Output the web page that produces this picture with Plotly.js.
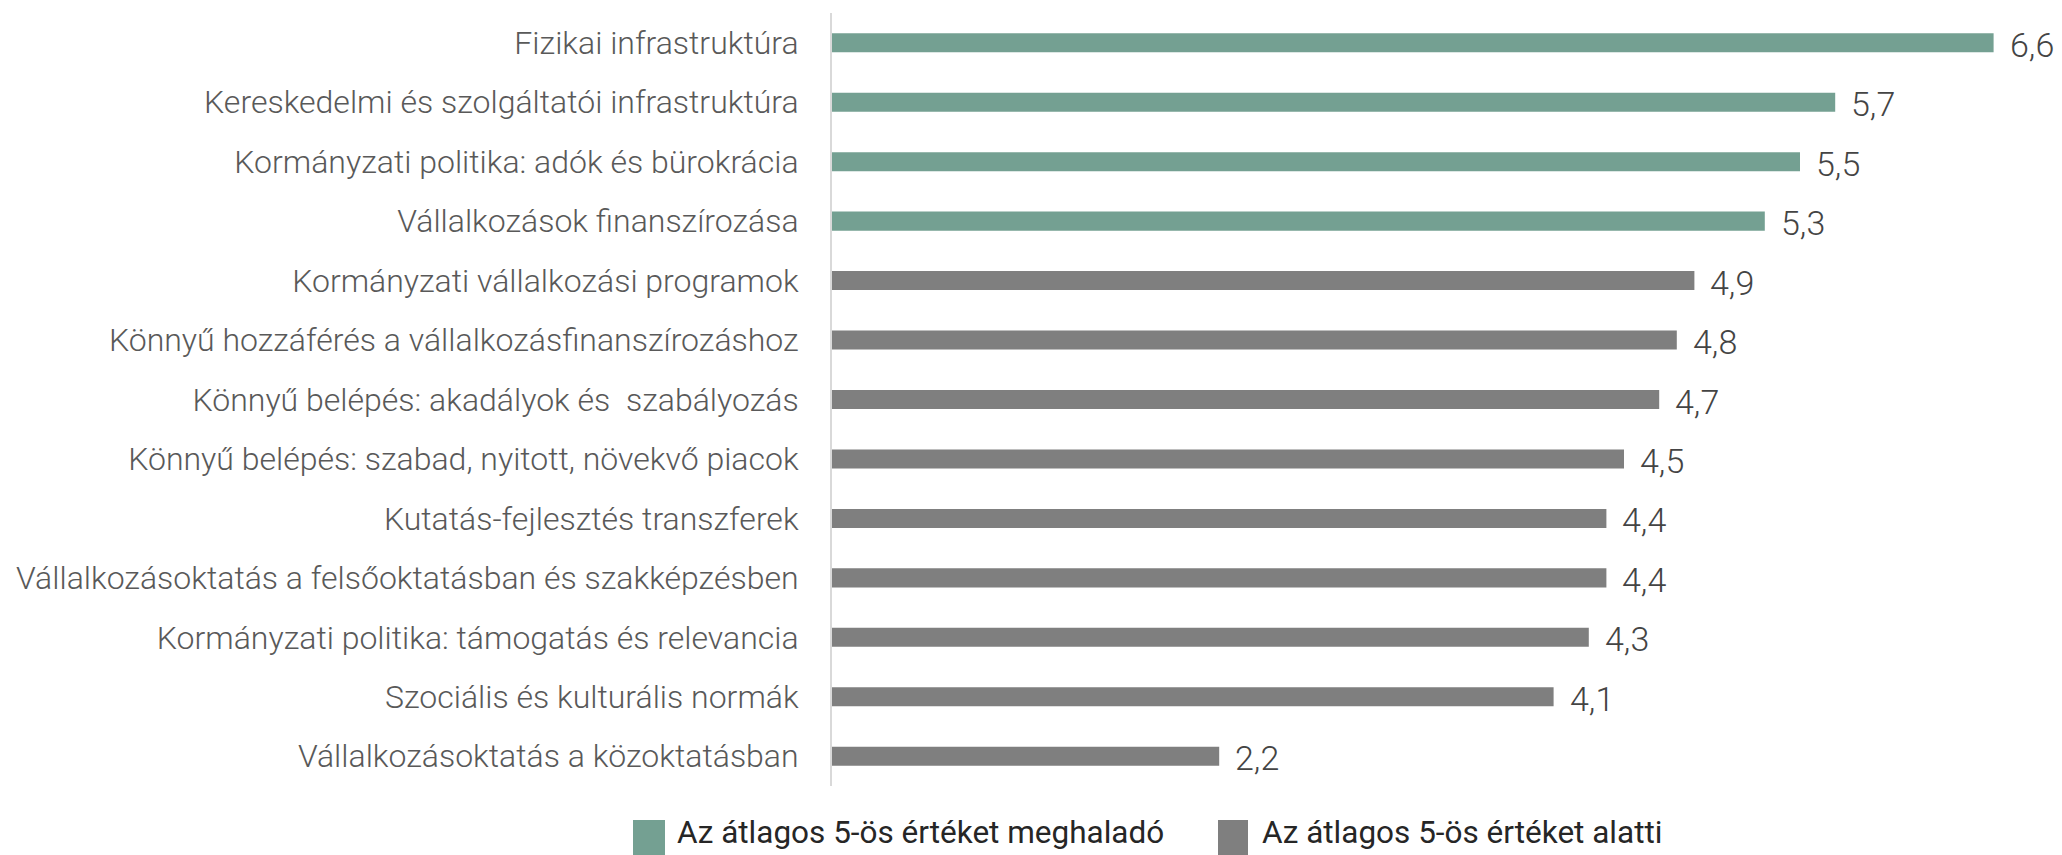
<!DOCTYPE html>
<html>
<head>
<meta charset="utf-8">
<script src="https://cdn.plot.ly/plotly-3.0.1.min.js"></script>
<style>
  html, body { margin: 0; padding: 0; background: #ffffff; }
  #chart { width: 2062px; height: 855px; }
</style>
</head>
<body>
<div id="chart"></div>
<script>
// ---- data ----
const categories = [
  "Fizikai infrastruktúra",
  "Kereskedelmi és szolgáltatói infrastruktúra",
  "Kormányzati politika: adók és bürokrácia",
  "Vállalkozások finanszírozása",
  "Kormányzati vállalkozási programok",
  "Könnyű hozzáférés a vállalkozásfinanszírozáshoz",
  "Könnyű belépés: akadályok és \u00a0szabályozás",
  "Könnyű belépés: szabad, nyitott, növekvő piacok",
  "Kutatás-fejlesztés transzferek",
  "Vállalkozásoktatás a felsőoktatásban és szakképzésben",
  "Kormányzati politika: támogatás és relevancia",
  "Szociális és kulturális normák",
  "Vállalkozásoktatás a közoktatásban"
];
const values = [6.6, 5.7, 5.5, 5.3, 4.9, 4.8, 4.7, 4.5, 4.4, 4.4, 4.3, 4.1, 2.2];
const aboveCount = 4;
const seriesNames = ["Az átlagos 5-ös értéket meghaladó", "Az átlagos 5-ös értéket alatti"];
const seriesColors = ["#74a092", "#7f7f7f"];

// ---- geometry helpers (pixel -> paper) ----
const W = 2062, H = 855;
const M = { l: 832, r: 16, t: 13, b: 69 };
const PW = W - M.l - M.r, PH = H - M.t - M.b;
const px = x => (x - M.l) / PW;
const py = y => (H - M.b - y) / PH;

const aboveCats = categories.slice(0, aboveCount);
const aboveVals = values.slice(0, aboveCount);
const belowCats = categories.slice(aboveCount);
const belowVals = values.slice(aboveCount);

const fmt = v => v.toFixed(1).replace('.', ',');

const traces = [
  {
    type: 'bar', orientation: 'h', name: seriesNames[0],
    y: aboveCats, x: aboveVals, width: 0.32,
    marker: { color: seriesColors[0] }, hoverinfo: 'x+y', showlegend: false
  },
  {
    type: 'bar', orientation: 'h', name: seriesNames[1],
    y: belowCats, x: belowVals, width: 0.32,
    marker: { color: seriesColors[1] }, hoverinfo: 'x+y', showlegend: false
  }
];

const annotations = categories.map((c, i) => ({
  x: values[i], y: c, xref: 'x', yref: 'y',
  text: fmt(values[i]), showarrow: false,
  xanchor: 'left', yanchor: 'middle', xshift: 14, yshift: -2,
  font: { family: 'Roboto, sans-serif', size: 34, color: '#444444', weight: 300 }
}));

// custom legend
const legendSwatch = [[633, 665], [1218, 1248]];
const legendTextX = [675, 1260];
const shapes = seriesNames.map((n, i) => ({
  type: 'rect', xref: 'paper', yref: 'paper',
  x0: px(legendSwatch[i][0]), x1: px(legendSwatch[i][1]),
  y0: py(820), y1: py(858),
  fillcolor: seriesColors[i], line: { width: 0 }
}));
seriesNames.forEach((n, i) => {
  annotations.push({
    xref: 'paper', yref: 'paper', x: px(legendTextX[i]), y: py(833),
    xanchor: 'left', yanchor: 'middle', showarrow: false, text: n,
    font: { family: 'Roboto, sans-serif', size: 31.5, color: '#262626', weight: 400 }
  });
});

const layout = {
  width: W, height: H,
  margin: M,
  paper_bgcolor: '#ffffff', plot_bgcolor: '#ffffff',
  barmode: 'overlay',
  showlegend: false,
  font: { family: 'Roboto, sans-serif' },
  xaxis: {
    range: [0, PW / 176], showgrid: false, zeroline: false,
    showticklabels: false, showline: false, ticks: '', fixedrange: true
  },
  yaxis: {
    type: 'category', categoryorder: 'array', categoryarray: categories,
    autorange: 'reversed', showgrid: false, zeroline: false,
    showline: true, linecolor: '#d9d9d9', linewidth: 2,
    ticks: '', ticklabelstandoff: 25,
    tickfont: { family: 'Roboto, sans-serif', size: 32, color: '#595959', weight: 300 },
    fixedrange: true
  },
  annotations: annotations,
  shapes: shapes
};

Plotly.newPlot('chart', traces, layout, { displayModeBar: false, staticPlot: true });
</script>
</body>
</html>
